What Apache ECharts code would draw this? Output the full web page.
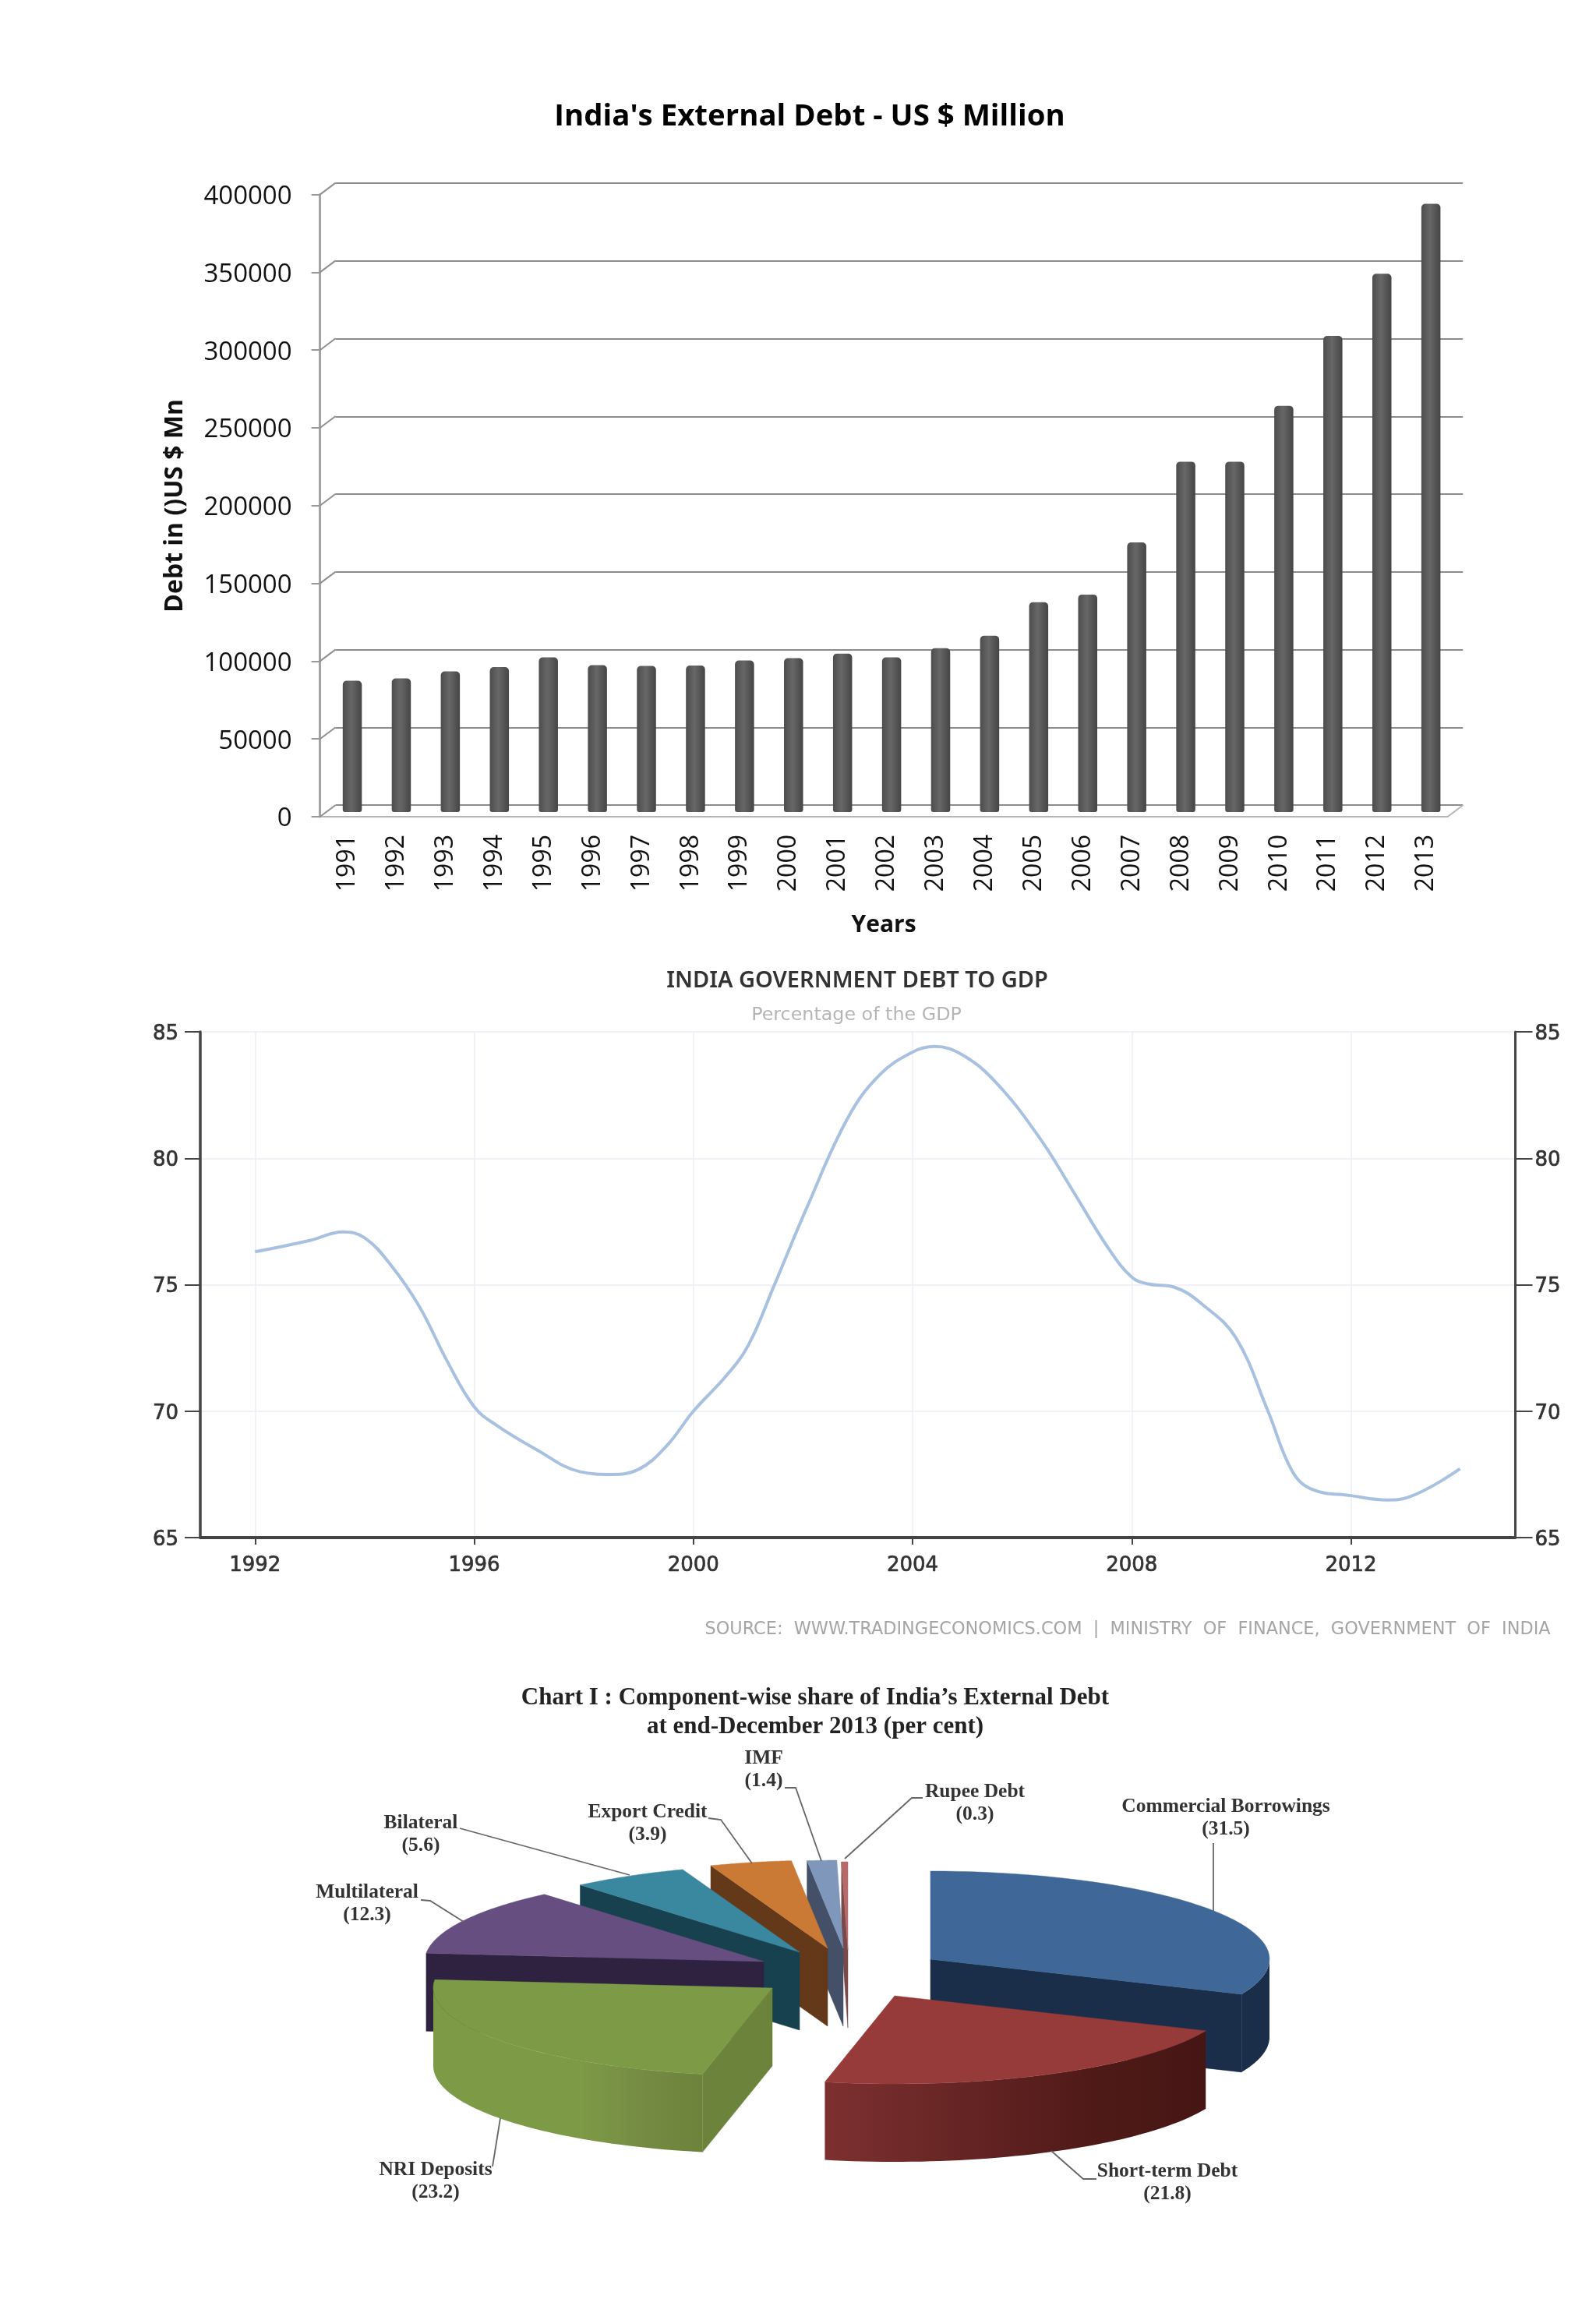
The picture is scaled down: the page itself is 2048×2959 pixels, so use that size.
<!DOCTYPE html>
<html>
<head>
<meta charset="utf-8">
<style>html,body{margin:0;padding:0;background:#fff}#chart{width:2048px;height:2959px}</style>
<script src="https://cdn.jsdelivr.net/npm/echarts@6/dist/echarts.min.js"></script>
</head>
<body>
<div id="chart"></div>
<script>
// ---------- data: external debt bars ----------
const debtYears = ['1991','1992','1993','1994','1995','1996','1997','1998','1999','2000','2001','2002','2003','2004','2005','2006','2007','2008','2009','2010','2011','2012','2013'];
const debtValues = [84500,86000,90500,93300,99500,94500,94000,94300,97500,99000,102000,99500,105500,113500,135000,140000,173500,225500,225500,261500,306500,346500,391500];
const debtTicks = [0,50000,100000,150000,200000,250000,300000,350000,400000];

// ---------- data: debt to GDP line ----------
const gdpYears = [1992,1993,1993.6,1994,1994.48,1995,1995.5,1996,1996.4,1997.12,1997.94,1998.5,1999,1999.5,2000,2000.6,2001,2001.47,2002.06,2002.82,2003.4,2004,2004.4,2004.9,2005.52,2006.32,2006.9,2007.57,2008,2008.3,2008.78,2009.3,2009.9,2010.48,2010.93,2011.3,2012,2012.66,2013.04,2013.99];
const gdpRatio = [76.3,76.75,77.09,76.85,75.77,74.13,72,70.17,69.45,68.5,67.6,67.5,67.7,68.6,70,71.4,72.6,74.95,78,81.6,83.3,84.2,84.42,84.1,83,80.8,78.8,76.45,75.3,75.03,74.9,74.2,72.9,70.03,67.62,66.9,66.66,66.49,66.59,67.72];
const gdpTickYears = [1992,1996,2000,2004,2008,2012];

// ---------- data: components of external debt ----------
const pieNames = ['Commercial Borrowings','Short-term Debt','NRI Deposits','Multilateral','Bilateral','Export Credit','IMF','Rupee Debt'];
const pieValues = [31.5,21.8,23.2,12.3,5.6,3.9,1.4,0.3];

// ---------- pie look ----------
const PIE = {cx:1090, cy:2510, rx:435, ry:113, depth:100};
const pieExplodeX = [104,58,-99,-110,-64,-28,-8,-2];
const pieExplodeY = [4,51,41,7,-5,-10,-10,-8];
const pieTopColors = ['#3f6797','#963a3a','#7d9a47','#664f80','#3a87a0','#cb7a35','#7f97ba','#b8696a'];
const grad = (stops)=>({type:'linear',x:0,y:0,x2:1,y2:0,colorStops:stops.map(s=>({offset:s[0],color:s[1]}))});
const pieOuterFill = ['#1a2e49',grad([[0,'#7d3030'],[.7,'#4f1a18'],[1,'#461614']]),grad([[0,'#7d9a47'],[.55,'#7d9a47'],[.8,'#748a42'],[1,'#6d833c']]),'#2f2140','#17414e','#63391a','#435068','#7a4a4a'];
const pieEdgeFill = ['#1a2e49','#4f1a18','#6c833c','#2f2140','#17414e','#63391a','#435068','#7a4a4a'];
const pieDrawOrder = [7,6,5,4,3,0,1,2];
const pieLabelX = [1573,1498,559,471,540,831,980,1251];
const pieLabelY = [2333,2801,2799,2443,2354,2340,2271,2314];
const pieLeaders = [
  [[1557,2365],[1557,2452]],
  [[1349,2760],[1390,2796],[1407,2796]],
  [[642,2718],[632,2780]],
  [[540,2438],[552,2439],[595,2466]],
  [[590,2346],[808,2406]],
  [[909,2333],[925,2335],[965,2391]],
  [[1007,2294],[1021,2294],[1054,2388]],
  [[1184,2307],[1170,2307],[1084,2385]]
];
const pieTotal = pieValues.reduce((a,b)=>a+b,0);
const pieStarts = pieValues.map((v,i)=>pieValues.slice(0,i).reduce((a,b)=>a+b,0)/pieTotal*Math.PI*2);
const pieSpans = pieValues.map(v=>v/pieTotal*Math.PI*2);

function renderSlice(params, api){
  const i = pieDrawOrder[params.dataIndex];
  const ax = PIE.cx+pieExplodeX[i], ay = PIE.cy+pieExplodeY[i];
  const a0 = pieStarts[i], a1 = a0+pieSpans[i];
  const rim = a=>[ax+PIE.rx*Math.sin(a), ay-PIE.ry*Math.cos(a)];
  const down = p=>[p[0],p[1]+PIE.depth];
  const ch = [];
  const wall = (p,q,fill)=>ch.push({type:'polygon',shape:{points:[p,q,down(q),down(p)]},style:{fill,stroke:fill,lineWidth:.5}});
  const deg = a=>a*180/Math.PI;
  if(deg(a0)>180) wall([ax,ay],rim(a0),pieEdgeFill[i]);
  if(deg(a1)<180) wall([ax,ay],rim(a1),pieEdgeFill[i]);
  const oa = Math.max(a0,Math.PI/2), ob = Math.min(a1,Math.PI*1.5);
  if(ob>oa){
    const up=[],lo=[];
    for(let k=0;k<=48;k++){const p=rim(oa+(ob-oa)*k/48);up.push(p);lo.unshift(down(p));}
    ch.push({type:'polygon',shape:{points:up.concat(lo)},style:{fill:pieOuterFill[i]}});
  }
  const top=[[ax,ay]];
  for(let k=0;k<=48;k++) top.push(rim(a0+(a1-a0)*k/48));
  ch.push({type:'polygon',shape:{points:top},style:{fill:pieTopColors[i],stroke:pieTopColors[i],lineWidth:.5}});
  return {type:'group',children:ch};
}
function renderPieLabel(params, api){
  const i = params.dataIndex;
  return {type:'group',children:[
    {type:'polyline',shape:{points:pieLeaders[i]},style:{fill:'none',stroke:'#666',lineWidth:1.8}},
    {type:'text',style:{text:pieNames[i]+'\n('+pieValues[i].toFixed(1)+')',x:pieLabelX[i],y:pieLabelY[i],align:'center',verticalAlign:'middle',lineHeight:29,fontFamily:'"Liberation Serif"',fontWeight:'bold',fontSize:25.5,fill:'#333'}}
  ]};
}
function renderWallEdge(params, api){
  const v = api.value(1), c = api.coord([0,v]), s = params.coordSys;
  const ch = [{type:'line',shape:{x1:s.x,y1:c[1],x2:s.x+20,y2:c[1]-15},style:{stroke:'#8f8f8f',lineWidth:2}}];
  if(v===0){
    ch.push({type:'line',shape:{x1:s.x+s.width,y1:c[1],x2:s.x+s.width+20,y2:c[1]-15},style:{stroke:'#b5b5b5',lineWidth:2}});
  }
  return {type:'group',children:ch};
}

const FRONT={left:410.6,top:249.6,width:1447,height:798.4};
const MID={left:420.6,top:244.5,width:1447,height:797.5};
const BACK={left:430.6,top:235,width:1446.6,height:798};
const LINE={left:257,top:1324,width:1687.5,height:649};
const off={show:false};
const embolden={textBorderColor:'#333',textBorderWidth:.7};
const opt={
  animation:false,
  backgroundColor:'#fff',
  title:[
    {text:"India's External Debt - US $ Million",left:1039,top:150,padding:0,textAlign:'center',textVerticalAlign:'middle',textStyle:{fontFamily:'"Open Sans"',fontWeight:'bold',fontSize:38.4,color:'#000'}},
    {text:'INDIA GOVERNMENT DEBT TO GDP',left:1100,top:1259,padding:0,textAlign:'center',textVerticalAlign:'middle',textStyle:{fontFamily:'"Noto Sans"',fontWeight:'600',fontSize:29,color:'#333'}},
    {text:'Percentage of the GDP',left:1099,top:1303,padding:0,textAlign:'center',textVerticalAlign:'middle',textStyle:{fontFamily:'"DejaVu Sans"',fontWeight:'normal',fontSize:23.8,color:'#b5b5b5'}},
    {text:'SOURCE:  WWW.TRADINGECONOMICS.COM  |  MINISTRY  OF  FINANCE,  GOVERNMENT  OF  INDIA',left:1447,top:2091,padding:0,textAlign:'center',textVerticalAlign:'middle',textStyle:{fontFamily:'"DejaVu Sans"',fontWeight:'normal',fontSize:22.4,color:'#a5a5a5'}},
    {text:"Chart I : Component-wise share of India\u2019s External Debt",left:1046,top:2179,padding:0,textAlign:'center',textVerticalAlign:'middle',textStyle:{fontFamily:'"Liberation Serif"',fontWeight:'bold',fontSize:31,color:'#222'}},
    {text:'at end-December 2013 (per cent)',left:1046,top:2216,padding:0,textAlign:'center',textVerticalAlign:'middle',textStyle:{fontFamily:'"Liberation Serif"',fontWeight:'bold',fontSize:31,color:'#222'}}
  ],
  grid:[FRONT,MID,BACK,LINE],
  xAxis:[
    {gridIndex:0,type:'category',data:debtYears,name:'Years',nameLocation:'middle',nameGap:124,
     nameTextStyle:{fontFamily:'"Open Sans"',fontWeight:'bold',fontSize:30,color:'#111'},
     axisLine:{lineStyle:{color:'#b5b5b5',width:2}},axisTick:off,
     axisLabel:{rotate:90,margin:23,interval:0,fontFamily:'"Open Sans"',fontSize:32,color:'#111',verticalAlign:'top',padding:[-12,0,0,0]}},
    {gridIndex:1,type:'category',data:debtYears,show:false},
    {gridIndex:2,type:'category',data:debtYears,axisLine:off,axisTick:off,axisLabel:off},
    {gridIndex:3,type:'value',min:1991,max:2015,
     axisLine:{lineStyle:{color:'#444',width:4}},
     axisTick:{length:9,customValues:gdpTickYears,lineStyle:{color:'#444',width:2}},
     axisLabel:{customValues:gdpTickYears,margin:23,fontFamily:'"DejaVu Sans"',fontSize:26,color:'#333',formatter:v=>String(v),...embolden},
     splitLine:{show:true,lineStyle:{color:'#eceef5',width:1.5}}}
  ],
  yAxis:[
    {gridIndex:0,type:'value',min:0,max:400000,interval:50000,name:'Debt in ()US $ Mn',nameLocation:'middle',nameGap:170,
     nameTextStyle:{fontFamily:'"Open Sans"',fontWeight:'bold',fontSize:32,color:'#111'},
     axisLine:{show:true,lineStyle:{color:'#a3a3a3',width:3}},
     axisTick:{show:true,length:11,lineStyle:{color:'#999',width:2}},
     axisLabel:{margin:36,fontFamily:'"Open Sans"',fontSize:33,color:'#111',verticalAlign:'top',padding:[-13.5,0,0,0],formatter:v=>String(v)},splitLine:off},
    {gridIndex:1,type:'value',min:0,max:400000,interval:50000,show:false},
    {gridIndex:2,type:'value',min:0,max:400000,interval:50000,axisLine:off,axisTick:off,axisLabel:off,
     splitLine:{show:true,lineStyle:{color:'#8c8c8c',width:2}}},
    {gridIndex:3,type:'value',min:65,max:85,interval:5,
     axisLine:{show:true,lineStyle:{color:'#444',width:3.5}},
     axisTick:{show:true,length:20,lineStyle:{color:'#444',width:2}},
     axisLabel:{margin:28,fontFamily:'"DejaVu Sans"',fontSize:26,color:'#333',verticalAlign:'top',padding:[-10,0,0,0],...embolden},
     splitLine:{show:true,lineStyle:{color:'#eceef5',width:1.5}}},
    {gridIndex:3,type:'value',min:65,max:85,interval:5,position:'right',
     axisLine:{show:true,lineStyle:{color:'#444',width:3}},
     axisTick:{show:true,length:22,lineStyle:{color:'#444',width:2}},
     axisLabel:{margin:25,fontFamily:'"DejaVu Sans"',fontSize:26,color:'#333',verticalAlign:'top',padding:[-10,0,0,0],...embolden},splitLine:off}
  ],
  series:[
    {type:'custom',xAxisIndex:0,yAxisIndex:0,clip:false,silent:true,z:1,renderItem:renderWallEdge,data:debtTicks.map(v=>[0,v])},
    {type:'bar',xAxisIndex:1,yAxisIndex:1,barWidth:24.5,z:3,data:debtValues,
     itemStyle:{borderRadius:[5,5,3,3],color:{type:'linear',x:0,y:0,x2:1,y2:0,colorStops:[{offset:0,color:'#4d4d4d'},{offset:.45,color:'#676767'},{offset:1,color:'#454545'}]}}},
    {type:'line',xAxisIndex:3,yAxisIndex:3,smooth:.4,showSymbol:false,z:3,lineStyle:{color:'#a9c1e1',width:4},data:gdpYears.map((y,i)=>[y,gdpRatio[i]])},
    {type:'custom',coordinateSystem:'none',silent:true,z:4,renderItem:renderSlice,data:pieDrawOrder.map(i=>pieValues[i])},
    {type:'custom',coordinateSystem:'none',silent:true,z:5,renderItem:renderPieLabel,data:pieValues.slice()}
  ]
};
const chart=echarts.init(document.getElementById('chart'),null,{renderer:'canvas',width:2048,height:2959});
chart.setOption(opt);
</script>
</body>
</html>
